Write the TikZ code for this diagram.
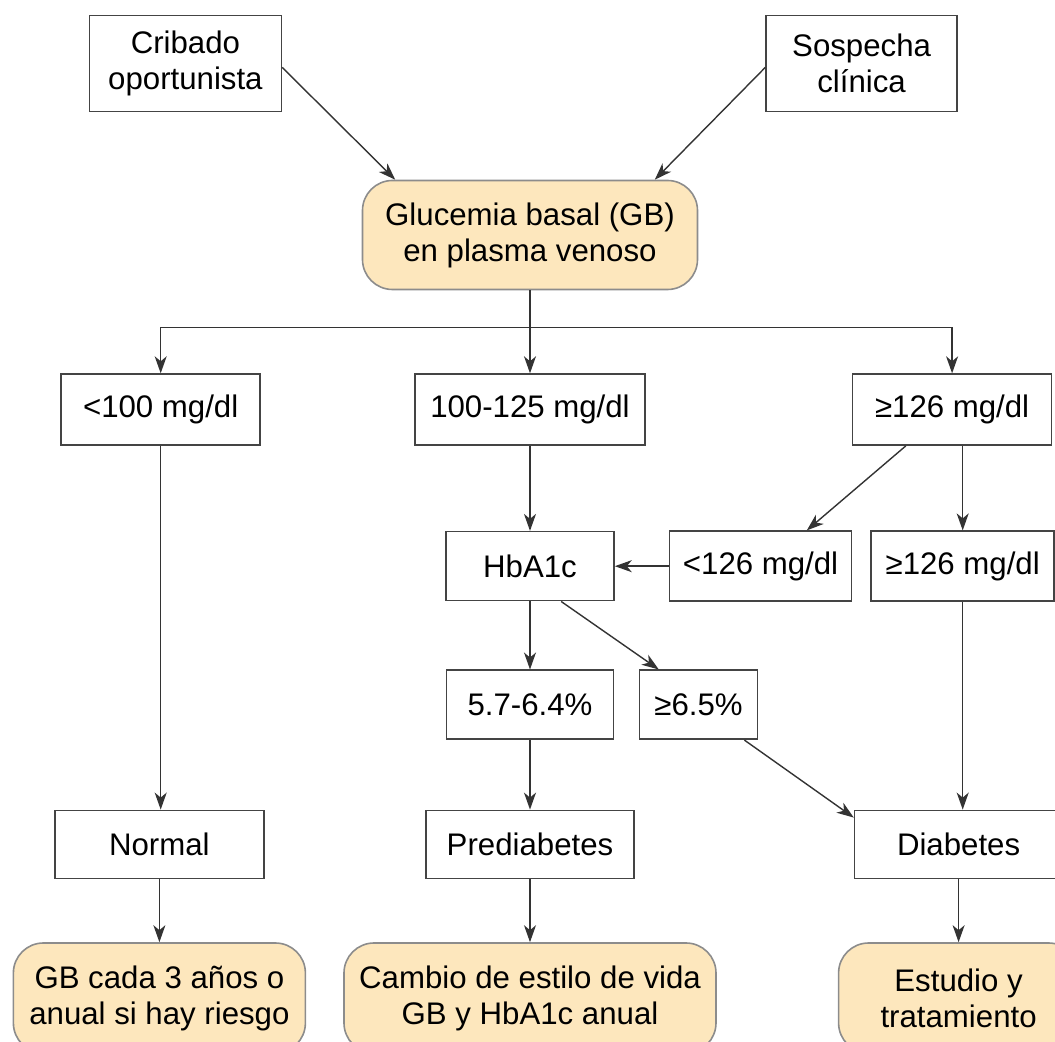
\documentclass[tikz,border=0pt]{standalone}
\usepackage{fontspec}
\setmainfont{Liberation Sans}
\usetikzlibrary{positioning,arrows.meta}
\definecolor{peach}{HTML}{FDE7BD}
\definecolor{edgegray}{HTML}{8C8C8C}
\definecolor{boxdrk}{HTML}{444444}
\definecolor{linedrk}{HTML}{333333}

\begin{document}
\begin{tikzpicture}[
	font=\fontsize{15.6}{18}\selectfont,
	box/.style={rectangle, draw=boxdrk, line width=0.8pt, align=center},
	goal/.style={rectangle, rounded corners=15pt, draw=edgegray, fill=peach, line width=0.8pt, align=center},
	arr/.style={draw=linedrk, line width=0.7pt, -{Stealth[length=8.5pt, width=6pt, inset=2.5pt]}}
]
	\clip (-265pt,117.5pt) rectangle (262.5pt,-403.5pt);

	\node[goal, minimum width=167.5pt, minimum height=54.5pt] (gb) at (0,0) {Glucemia basal (GB)\\en plasma venoso};
	\node[box, minimum width=96pt, minimum height=48pt, above left=33.75pt and 39.75pt of gb] (crib) {Cribado\\oportunista};
	\node[box, minimum width=95.5pt, minimum height=48pt, above right=33.75pt and 33.5pt of gb] (sosp) {Sospecha\\clínica};

	\node[box, minimum width=115pt, minimum height=35.5pt, below=41.5pt of gb] (g2) {100-125 mg/dl};
	\node[box, minimum width=99.5pt, minimum height=35.5pt, left=76.6pt of g2] (g1) {<100 mg/dl};
	\node[box, minimum width=99.5pt, minimum height=35.5pt, right=103pt of g2] (g3) {≥126 mg/dl};

	\node[box, minimum width=84pt, minimum height=34.5pt, below=42.5pt of g2] (hb) {HbA1c};
	\node[box, minimum width=91pt, minimum height=35pt, right=27pt of hb] (g4) {<126 mg/dl};
	\node[box, minimum width=91.5pt, minimum height=35pt, right=9pt of g4] (g5) {≥126 mg/dl};

	\node[box, minimum width=83.5pt, minimum height=34.5pt, below=34pt of hb] (h1) {5.7-6.4\%};
	\node[box, minimum width=59pt, minimum height=34.5pt, right=12.25pt of h1] (h2) {≥6.5\%};

	\node[box, minimum width=104pt, minimum height=34pt, below=34.75pt of h1] (pre) {Prediabetes};
	\node[box, minimum width=104.5pt, minimum height=34pt, left=80.25pt of pre] (nor) {Normal};
	\node[box, minimum width=104pt, minimum height=34pt, right=109.5pt of pre] (dia) {Diabetes};

	\node[goal, minimum width=186pt, minimum height=55pt, below=31.5pt of pre] (r2) {Cambio de estilo de vida\\GB y HbA1c anual};
	\node[goal, minimum width=146pt, minimum height=55pt, below=31.5pt of nor] (r1) {GB cada 3 años o\\anual si hay riesgo};
	\node[goal, minimum width=120pt, minimum height=55pt, below=31.5pt of dia] (r3) {Estudio y\\tratamiento};

	\draw[arr] ([yshift=-2pt]crib.east) -- ([xshift=16.75pt]gb.north west);
	\draw[arr] ([yshift=-2pt]sosp.west) -- ([xshift=-21.75pt]gb.north east);

	\coordinate[below=18.5pt of gb] (split);
	\draw[draw=linedrk, line width=0.7pt] (gb.south) -- (split);
	\draw[arr] (split) -- (g2);
	\draw[arr] (split) -| (g1.north);
	\draw[arr] (split) -| (g3.north);

	\draw[arr] (g2) -- (hb);
	\draw[arr] ([xshift=27pt]g3.south west) -- ([xshift=69pt]g4.north west);
	\draw[arr] (g5.north |- g3.south) -- (g5.north);
	\draw[arr] (g4) -- (hb);

	\draw[arr] (hb) -- (h1);
	\draw[arr] ([xshift=58pt]hb.south west) -- ([xshift=10pt]h2.north west);

	\draw[arr] (g1.south) -- (g1.south |- nor.north);
	\draw[arr] (h1) -- (pre);
	\draw[arr] ([xshift=-7pt]h2.south east) -- ([yshift=-4pt]dia.north west);
	\draw[arr] (g5.south) -- (g5.south |- dia.north);

	\draw[arr] (nor) -- (r1);
	\draw[arr] (pre) -- (r2);
	\draw[arr] (dia) -- (r3);
\end{tikzpicture}
\end{document}
